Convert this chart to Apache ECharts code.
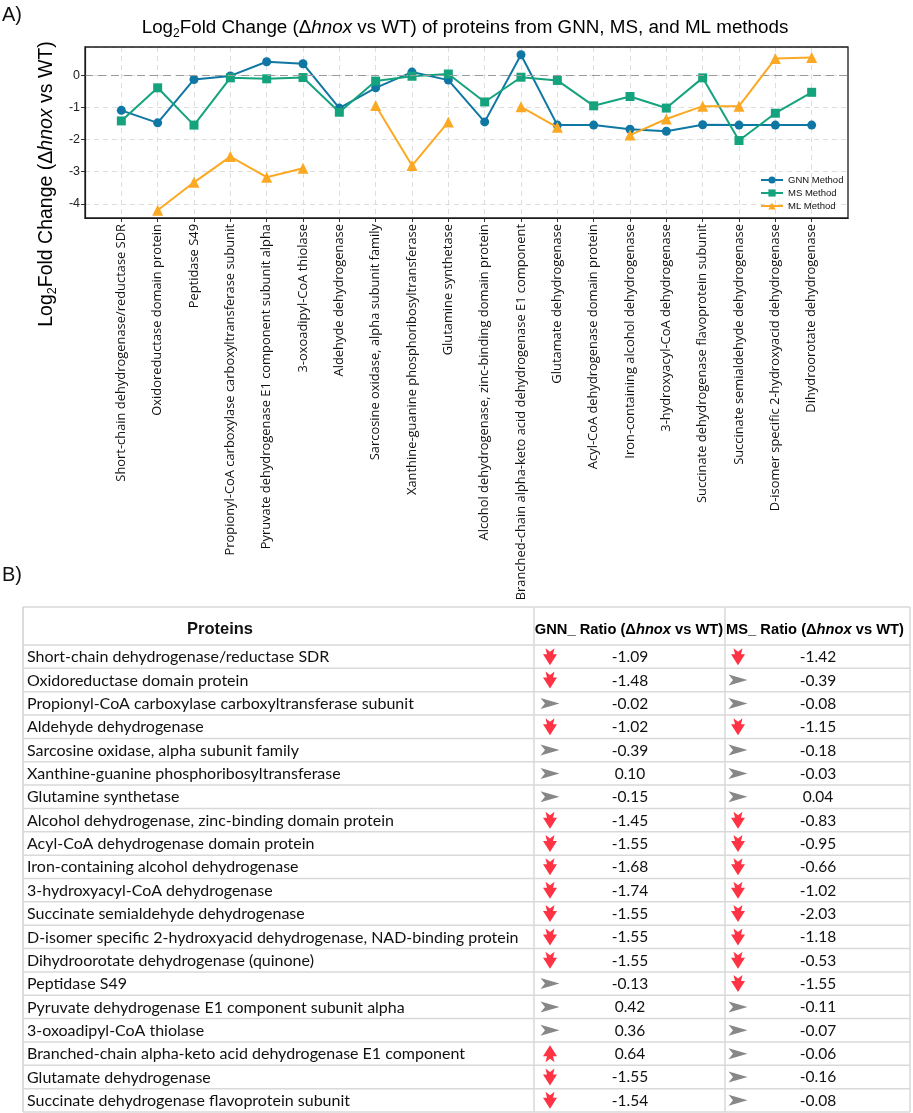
<!DOCTYPE html>
<html><head><meta charset="utf-8">
<script src="https://cdn.jsdelivr.net/npm/echarts@6/dist/echarts.min.js"></script>
<style>html,body{margin:0;padding:0;background:#fff}#c{width:913px;height:1113px}</style>
</head><body><div id="c"></div>
<script>
// ---------- DATA ----------
const categories = [
  'Short-chain dehydrogenase/reductase SDR',
  'Oxidoreductase domain protein',
  'Peptidase S49',
  'Propionyl-CoA carboxylase carboxyltransferase subunit',
  'Pyruvate dehydrogenase E1 component subunit alpha',
  '3-oxoadipyl-CoA thiolase',
  'Aldehyde dehydrogenase',
  'Sarcosine oxidase, alpha subunit family',
  'Xanthine-guanine phosphoribosyltransferase',
  'Glutamine synthetase',
  'Alcohol dehydrogenase, zinc-binding domain protein',
  'Branched-chain alpha-keto acid dehydrogenase E1 component',
  'Glutamate dehydrogenase',
  'Acyl-CoA dehydrogenase domain protein',
  'Iron-containing alcohol dehydrogenase',
  '3-hydroxyacyl-CoA dehydrogenase',
  'Succinate dehydrogenase flavoprotein subunit',
  'Succinate semialdehyde dehydrogenase',
  'D-isomer specific 2-hydroxyacid dehydrogenase',
  'Dihydroorotate dehydrogenase'
];
const gnnValues = [-1.09, -1.48, -0.13, -0.02, 0.42, 0.36, -1.02, -0.39, 0.10, -0.15, -1.45, 0.64, -1.55, -1.55, -1.68, -1.74, -1.54, -1.55, -1.55, -1.55];
const msValues  = [-1.42, -0.39, -1.55, -0.08, -0.11, -0.07, -1.15, -0.18, -0.03, 0.04, -0.83, -0.06, -0.16, -0.95, -0.66, -1.02, -0.08, -2.03, -1.18, -0.53];
const mlValues  = [null, -4.20, -3.33, -2.53, -3.17, -2.89, null, -0.94, -2.81, -1.45, null, -0.98, -1.62, null, -1.86, -1.36, -0.96, -0.96, 0.52, 0.55];
const seriesNames = ['GNN Method', 'MS Method', 'ML Method'];

const tableProteins = [
  'Short-chain dehydrogenase/reductase SDR',
  'Oxidoreductase domain protein',
  'Propionyl-CoA carboxylase carboxyltransferase subunit',
  'Aldehyde dehydrogenase',
  'Sarcosine oxidase, alpha subunit family',
  'Xanthine-guanine phosphoribosyltransferase',
  'Glutamine synthetase',
  'Alcohol dehydrogenase, zinc-binding domain protein',
  'Acyl-CoA dehydrogenase domain protein',
  'Iron-containing alcohol dehydrogenase',
  '3-hydroxyacyl-CoA dehydrogenase',
  'Succinate semialdehyde dehydrogenase',
  'D-isomer specific 2-hydroxyacid dehydrogenase, NAD-binding protein',
  'Dihydroorotate dehydrogenase (quinone)',
  'Peptidase S49',
  'Pyruvate dehydrogenase E1 component subunit alpha',
  '3-oxoadipyl-CoA thiolase',
  'Branched-chain alpha-keto acid dehydrogenase E1 component',
  'Glutamate dehydrogenase',
  'Succinate dehydrogenase flavoprotein subunit'
];
const tableGnn = [-1.09, -1.48, -0.02, -1.02, -0.39, 0.10, -0.15, -1.45, -1.55, -1.68, -1.74, -1.55, -1.55, -1.55, -0.13, 0.42, 0.36, 0.64, -1.55, -1.54];
const tableMs  = [-1.42, -0.39, -0.08, -1.15, -0.18, -0.03, 0.04, -0.83, -0.95, -0.66, -1.02, -2.03, -1.18, -0.53, -1.55, -0.11, -0.07, -0.06, -0.16, -0.08];

// ---------- LAYOUT / STYLE ----------
const ARIAL = '"Liberation Sans", Arial, sans-serif';
const LABF = '"Open Sans", sans-serif';
const TABF = 'Lato, sans-serif';
const C_GNN = '#0f77a3', C_MS = '#15a37d', C_ML = '#fba924';
const RED = '#ff3343', GRAY = '#878787', LINE = '#d9d9d9';
const G_LEFT = 85, G_TOP = 47, G_W = 763, G_H = 171;
const T_LEFT = 23, T_RIGHT = 910, T_TOP = 607, T_HEAD_B = 645, T_BOTTOM = 1112;
const COLS = [0, 511, 702, 887];           // column edges (relative to table left)
const X_NAME = 4, X_GARROW = 527, X_GNUM = 607, X_MARROW = 715, X_MNUM = 795;

const pad = a => [null, ...a, null];
const xCats = ['', ...categories, ''];

const DOWN = [[-4.5,-8.5],[0,-5],[4.5,-8.5],[3,-2.5],[7,-2.5],[0,8.5],[-7,-2.5],[-3,-2.5]];
const RIGHT = [[-9.5,-5.5],[9.5,0],[-9.5,5.5],[-5,0]];
function arrow(v, cx, cy) {
  let pts, color;
  if (v <= -0.5) { pts = DOWN; color = RED; }
  else if (v >= 0.5) { pts = DOWN.map(p => [p[0], -p[1]]); color = RED; }
  else { pts = RIGHT; color = GRAY; }
  return { type: 'polygon', shape: { points: pts.map(p => [cx + p[0], cy + p[1]]) }, style: { fill: color } };
}

const richT = (fs, sfs) => ({
  a: { fontSize: fs, fontFamily: ARIAL, lineHeight: 24, color: '#111' },
  s: { fontSize: sfs, fontFamily: ARIAL, lineHeight: 9, verticalAlign: 'bottom', color: '#111' },
  i: { fontSize: fs, fontFamily: ARIAL, lineHeight: 24, fontStyle: 'italic', color: '#111' }
});
const headRich = {
  b: { fontSize: 14.7, fontFamily: ARIAL, fontWeight: 'bold', color: '#111' },
  i: { fontSize: 14.7, fontFamily: ARIAL, fontWeight: 'bold', fontStyle: 'italic', color: '#111' }
};

const chart = echarts.init(document.getElementById('c'), null, { width: 913, height: 1113 });

const option = {
  animation: false,
  backgroundColor: '#fff',
  grid: [
    { left: G_LEFT, top: G_TOP, width: G_W, height: G_H, show: false },
    { left: T_LEFT, top: T_HEAD_B, width: T_RIGHT - T_LEFT, height: T_BOTTOM - T_HEAD_B, show: false }
  ],
  legend: {
    orient: 'vertical', left: 755, top: 170, itemWidth: 22, itemHeight: 9, itemGap: 3,
    textStyle: { fontSize: 9.5, fontFamily: ARIAL, color: '#111' },
    data: seriesNames
  },
  xAxis: [
    {
      type: 'category', gridIndex: 0, data: xCats, boundaryGap: false,
      axisLine: { show: true, onZero: false, lineStyle: { color: '#1a1a1a', width: 1.2 } },
      axisTick: { show: true, length: 4, interval: (i) => i > 0 && i < xCats.length - 1, lineStyle: { color: '#333' } },
      axisLabel: { interval: 0, rotate: 90, margin: 6, fontSize: 12.9, fontFamily: LABF, color: '#111' },
      splitLine: { show: true, interval: (i) => i > 0 && i < xCats.length - 1, lineStyle: { color: '#dedede', type: [5, 4], width: 1 } }
    },
    { type: 'value', gridIndex: 1, min: 0, max: T_RIGHT - T_LEFT, show: false }
  ],
  yAxis: [
    {
      type: 'value', gridIndex: 0, min: -4.44, max: 0.88, splitNumber: 5,
      axisLine: { show: true, onZero: false, lineStyle: { color: '#1a1a1a', width: 1.2 } },
      axisTick: { show: true, length: 4, lineStyle: { color: '#333' } },
      axisLabel: { fontSize: 12.5, fontFamily: ARIAL, color: '#222', margin: 5, showMinLabel: false, showMaxLabel: false },
      splitLine: { show: true, lineStyle: { color: '#dedede', type: [5, 4], width: 1 } }
    },
    { type: 'category', gridIndex: 1, data: tableProteins, inverse: true, show: false, boundaryGap: true }
  ],
  series: [
    {
      name: 'zero', type: 'line', xAxisIndex: 0, yAxisIndex: 0, data: [], silent: true, z: 1,
      markLine: { silent: true, symbol: 'none', label: { show: false },
        lineStyle: { color: '#9a9a9a', type: [8, 5], width: 1.2 }, data: [{ yAxis: 0 }] }
    },
    {
      name: seriesNames[0], type: 'line', data: pad(gnnValues), color: C_GNN,
      symbol: 'circle', symbolSize: 9, lineStyle: { width: 2 }, connectNulls: false, z: 3
    },
    {
      name: seriesNames[1], type: 'line', data: pad(msValues), color: C_MS,
      symbol: 'rect', symbolSize: 9, lineStyle: { width: 2 }, connectNulls: false, z: 4
    },
    {
      name: seriesNames[2], type: 'line', data: pad(mlValues), color: C_ML,
      symbol: 'triangle', symbolSize: 11, lineStyle: { width: 2 }, connectNulls: false, z: 5
    },
    {
      name: 'table', type: 'custom', xAxisIndex: 1, yAxisIndex: 1, clip: false, silent: true,
      data: tableProteins.map((p, i) => [0, i, tableGnn[i], tableMs[i]]),
      encode: { x: 0, y: 1 },
      renderItem: function (params, api) {
        const i = api.value(1);
        const c = api.coord([0, i]);
        const h = api.size([0, 1])[1];
        const cy = c[1];
        const X = v => api.coord([v, i])[0];
        const g = api.value(2), m = api.value(3);
        const ch = [];
        ch.push({ type: 'line', shape: { x1: X(COLS[0]), y1: cy + h / 2, x2: X(COLS[3]), y2: cy + h / 2 }, style: { stroke: LINE, lineWidth: 1.5 } });
        ch.push({ type: 'line', shape: { x1: X(COLS[1]), y1: cy - h / 2, x2: X(COLS[1]), y2: cy + h / 2 }, style: { stroke: LINE, lineWidth: 1.5 } });
        ch.push({ type: 'line', shape: { x1: X(COLS[2]), y1: cy - h / 2, x2: X(COLS[2]), y2: cy + h / 2 }, style: { stroke: LINE, lineWidth: 1.5 } });
        ch.push({ type: 'text', style: { x: X(X_NAME), y: cy + 0.5, text: tableProteins[i], font: '16px ' + TABF, fill: '#111', align: 'left', verticalAlign: 'middle' } });
        ch.push(arrow(g, X(X_GARROW), cy));
        ch.push(arrow(m, X(X_MARROW), cy));
        ch.push({ type: 'text', style: { x: X(X_GNUM), y: cy + 0.5, text: g.toFixed(2), font: '15.5px ' + TABF, fill: '#111', align: 'center', verticalAlign: 'middle' } });
        ch.push({ type: 'text', style: { x: X(X_MNUM), y: cy + 0.5, text: m.toFixed(2), font: '15.5px ' + TABF, fill: '#111', align: 'center', verticalAlign: 'middle' } });
        return { type: 'group', children: ch };
      }
    }
  ],
  graphic: [
    { type: 'rect', z: 100, silent: true, shape: { x: G_LEFT, y: G_TOP, width: G_W, height: G_H }, style: { fill: 'none', stroke: '#1a1a1a', lineWidth: 1.3 } },
    { type: 'text', left: 2, top: 5, style: { text: 'A)', font: '20px ' + ARIAL, fill: '#111' } },
    { type: 'text', left: 2, top: 565, style: { text: 'B)', font: '20px ' + ARIAL, fill: '#111' } },
    { type: 'text', x: 465, y: 28, style: {
        text: '{a|Log}{s|2}{a|Fold Change (Δ}{i|hnox}{a| vs WT) of proteins from GNN, MS, and ML methods}',
        rich: richT(18.8, 12), align: 'center', verticalAlign: 'middle' } },
    { type: 'text', x: 47, y: 184, rotation: Math.PI / 2, style: {
        text: '{a|Log}{s|2}{a|Fold Change (Δ}{i|hnox}{a| vs WT)}',
        rich: richT(19.5, 12.5), align: 'center', verticalAlign: 'middle' } },
    // table header & frame
    { type: 'line', shape: { x1: T_LEFT, y1: T_TOP, x2: T_RIGHT, y2: T_TOP }, style: { stroke: LINE, lineWidth: 1.5 } },
    { type: 'line', shape: { x1: T_LEFT, y1: T_HEAD_B, x2: T_RIGHT, y2: T_HEAD_B }, style: { stroke: LINE, lineWidth: 1.5 } },
    { type: 'line', shape: { x1: T_LEFT, y1: T_TOP, x2: T_LEFT, y2: T_BOTTOM }, style: { stroke: '#d0d0d0', lineWidth: 1.5 } },
    { type: 'line', shape: { x1: T_RIGHT, y1: T_TOP, x2: T_RIGHT, y2: T_BOTTOM }, style: { stroke: LINE, lineWidth: 1.5 } },
    { type: 'line', shape: { x1: T_LEFT + COLS[1], y1: T_TOP, x2: T_LEFT + COLS[1], y2: T_HEAD_B }, style: { stroke: LINE, lineWidth: 1.5 } },
    { type: 'line', shape: { x1: T_LEFT + COLS[2], y1: T_TOP, x2: T_LEFT + COLS[2], y2: T_HEAD_B }, style: { stroke: LINE, lineWidth: 1.5 } },
    { type: 'text', x: 220, y: 629, style: { text: 'Proteins', font: 'bold 16.5px ' + ARIAL, fill: '#111', align: 'center', verticalAlign: 'middle' } },
    { type: 'text', x: 629, y: 630, style: { text: '{b|GNN_ Ratio (Δ}{i|hnox}{b| vs WT)}', rich: headRich, align: 'center', verticalAlign: 'middle' } },
    { type: 'text', x: 815, y: 630, style: { text: '{b|MS_ Ratio (Δ}{i|hnox}{b| vs WT)}', rich: headRich, align: 'center', verticalAlign: 'middle' } }
  ]
};
chart.setOption(option);
</script>
</body></html>
